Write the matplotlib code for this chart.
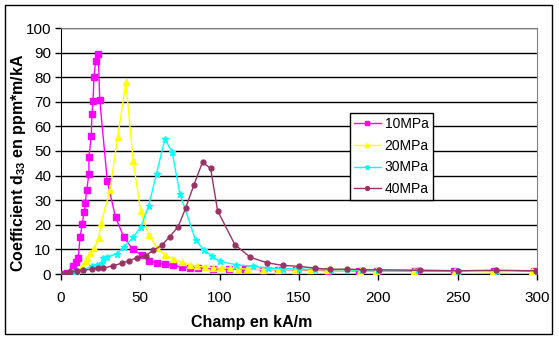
import matplotlib
matplotlib.use("Agg")
import matplotlib.pyplot as plt
from matplotlib.patches import Rectangle

plt.rcParams['font.family'] = ['Liberation Sans', 'DejaVu Sans']
plt.rcParams['mathtext.fontset'] = 'custom'
plt.rcParams['mathtext.rm'] = 'Liberation Sans'
plt.rcParams['mathtext.bf'] = 'Liberation Sans:bold'

x10 = [0, 3.6, 7.4, 9.4, 10.9, 12.0, 13.4, 14.5, 15.3, 16.2, 17.6, 17.6, 19.1, 19.5, 20.2, 20.8, 21.8, 23.5,
       24.4, 29.2, 34.4, 39.7, 45.1, 50.8, 55.2, 60.2, 65.5, 70.7, 76.0, 81.2, 86.5, 96, 106, 116, 127, 137,
       148, 168, 188, 199, 223, 248, 273, 298]
y10 = [0, 0.4, 3.4, 4.7, 6.6, 14.9, 20.2, 25.2, 29.0, 34.0, 40.8, 47.5, 56.3, 65.0, 70.4, 80.2, 86.6, 89.4,
       70.9, 37.7, 23.0, 14.9, 10.1, 7.7, 5.4, 4.6, 4.0, 3.6, 2.7, 2.6, 2.4, 2.2, 2.0, 1.9, 1.8, 1.7,
       1.6, 1.4, 1.3, 1.3, 1.2, 1.1, 1.1, 1.1]

x20 = [13.4, 15.7, 16.6, 18.3, 21.0, 23.9, 25.2, 30.9, 35.7, 40.9, 45.5, 50.2, 55.2, 60.7, 65.5, 70.7, 76.0,
       81.2, 85.8, 90.7, 96.0, 101.0, 106.4, 111.6, 117, 127.4, 136.8, 147.4, 157, 167.7, 188.3, 198.8,
       222.5, 248.1, 272.2, 297]
y20 = [3.1, 5.1, 6.5, 8.5, 10.5, 14.6, 20.6, 34.1, 55.7, 77.9, 45.9, 25.7, 15.9, 10.5, 7.8, 6.1, 4.7,
       3.8, 3.1, 2.9, 2.5, 2.4, 2.4, 2.2, 2.0, 1.8, 1.7, 1.7, 1.7, 1.7, 1.4, 1.4,
       1.4, 1.3, 0.8, 1.4]

x30 = [6.7, 10, 14.0, 19.3, 22.5, 25.6, 26.7, 28.8, 35.1, 39.7, 45.5, 50.4, 55.2, 60.2, 65.5, 70.1, 74.9,
       84.8, 90.0, 95.3, 100.1, 110.2, 121.0, 130.5, 140, 150, 160, 170, 180, 190, 200, 225, 250, 275, 300]
y30 = [1.0, 1.2, 1.7, 3.1, 3.8, 4.5, 6.5, 6.9, 8.2, 11.1, 14.9, 19.2, 27.6, 40.8, 54.9, 49.4, 32.7,
       13.9, 9.8, 7.2, 5.1, 3.8, 3.1, 2.4, 2.2, 2.0, 1.9, 1.8, 1.7, 1.6, 1.6, 1.5, 1.4, 1.4, 1.4]

x40 = [0, 3.0, 5.7, 10, 14.0, 19.3, 23.5, 26.7, 33.0, 38.2, 43.0, 48.0, 53.5, 58.1, 63.4, 68.6, 73.9, 78.5,
       83.8, 89.2, 94.3, 98.7, 109.6, 119.3, 129.7, 139.7, 150.3, 160, 169.4, 180.3, 190.4, 200.4, 226,
       250.2, 274.4, 299.6]
y40 = [0, 0.5, 1.0, 1.2, 1.5, 2.0, 2.4, 2.4, 3.4, 4.4, 5.4, 6.7, 7.5, 9.6, 11.6, 15.2, 19.3, 26.7,
       36.3, 45.5, 42.9, 25.7, 11.9, 6.8, 4.6, 3.5, 3.1, 2.4, 1.9, 2.0, 1.7, 1.7, 1.5,
       1.3, 1.5, 1.3]

labels = ['10MPa', '20MPa', '30MPa', '40MPa']
colors = ['#FF00FF', '#FFFF00', '#00FFFF', '#993366']
markers = ['s', '^', '*', 'o']
msizes = [4, 4, 4.5, 3.5]

W, H = 559, 341
fig = plt.figure(figsize=(W / 100, H / 100), dpi=100)
fig.patch.set_facecolor('white')
fig.add_artist(Rectangle((5 / W, 1 - 334 / H), 547 / W, 329 / H, transform=fig.transFigure,
                         fill=False, edgecolor='black', linewidth=1))

ax = fig.add_axes([61 / W, 1 - 274 / H, (537 - 61) / W, (274 - 28) / H])
for xs, ys, lab, c, m, ms in zip([x10, x20, x30, x40], [y10, y20, y30, y40], labels, colors, markers, msizes):
    ax.plot(xs, ys, color=c, marker=m, markersize=ms, linewidth=1.0, label=lab,
            markeredgecolor=c, markerfacecolor=c, zorder=3)

ax.set_xlim(0, 300)
ax.set_ylim(0, 100)
ax.set_xticks(range(0, 301, 50))
ax.set_yticks(range(0, 101, 10))
ax.yaxis.grid(True, color='black', linewidth=1)
ax.set_axisbelow(True)
for s in ['top', 'right']:
    ax.spines[s].set_color('#808080')
for s in ['left', 'bottom']:
    ax.spines[s].set_color('black')
ax.tick_params(axis='both', direction='out', length=4, width=1, labelsize=11, pad=8)
ax.tick_params(axis='y', pad=3)

ax.set_xlabel('Champ en kA/m', fontsize=11.5, fontweight='bold')
ax.set_ylabel(r'Coefficient d$_\mathbf{33}$ en ppm*m/kA', fontsize=11.5, fontweight='bold')
ax.xaxis.set_label_coords((252 - 61) / 476, (274 - 322) / 246)
ax.xaxis.label.set_va('center')
ax.yaxis.set_label_coords((19 - 61) / 476, (274 - 163) / 246)
ax.yaxis.label.set_va('center')

leg = ax.legend(loc='upper left', bbox_to_anchor=((350 - 61) / 476, (274 - 113) / 246),
                borderaxespad=0, frameon=True, fancybox=False, edgecolor='black', fontsize=10,
                handlelength=1.9, markerscale=0.8, borderpad=0.3, labelspacing=0.55, handletextpad=0.3)
leg.get_frame().set_linewidth(1)
leg.get_frame().set_facecolor('white')
leg.get_frame().set_alpha(1)

fig.savefig('out.png', dpi=100)
